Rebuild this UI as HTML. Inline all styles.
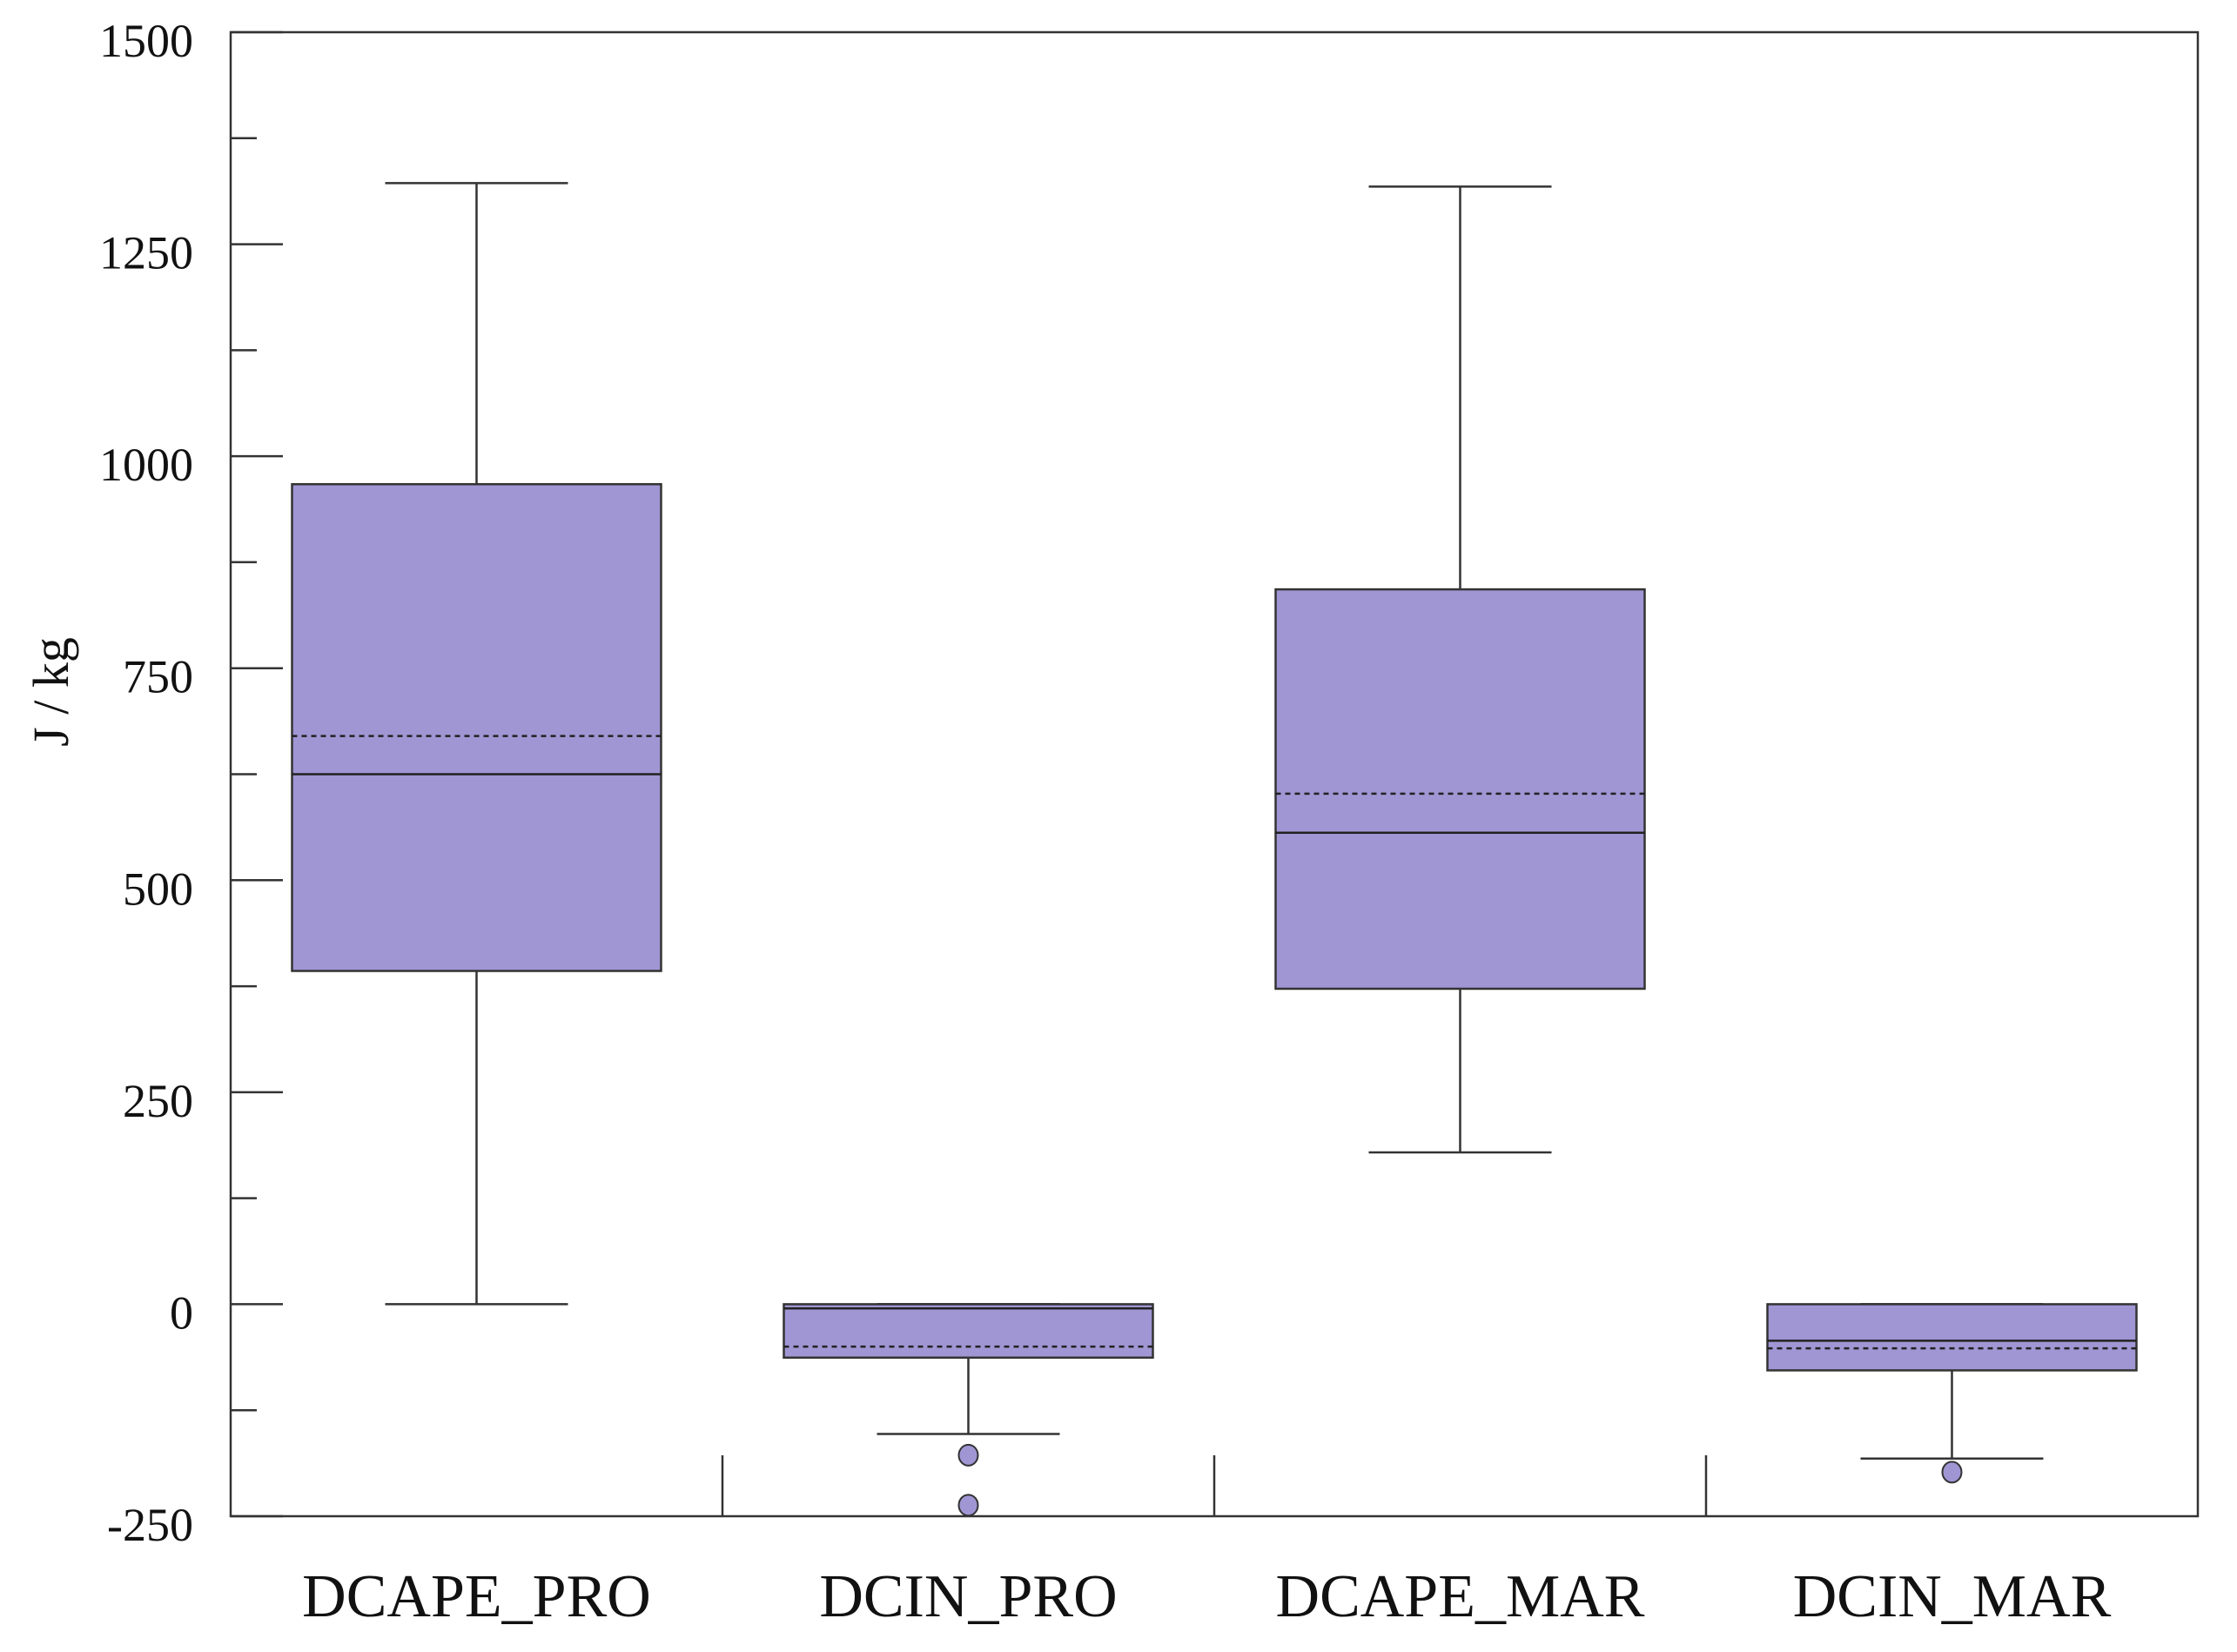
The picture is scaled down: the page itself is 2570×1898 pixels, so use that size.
<!DOCTYPE html>
<html><head><meta charset="utf-8"><style>
body{margin:0;background:#fff}
svg text{font-family:"Liberation Serif",serif;fill:#111}
</style></head><body>
<svg id="chart" width="2570" height="1893" viewBox="0 0 2570 1893" xmlns="http://www.w3.org/2000/svg">
<g id="plot"></g>
</svg>
<script>
const categories = ["DCAPE_PRO","DCIN_PRO","DCAPE_MAR","DCIN_MAR"];
const whiskerLow = [0,-153,179,-182];
const q1 = [393,-63,372,-78];
const medians = [625,-5,556,-43];
const means = [670,-50,602,-52];
const q3 = [967,0,843,0];
const whiskerHigh = [1322,0,1318,0];
const outliers = [[],[-178,-237],[],[-198]];
const majorTicks = [-250,0,250,500,750,1000,1250,1500];
const tickLabels = ["-250","0","250","500","750","1000","1250","1500"];
const minorTicks = [-125,125,375,625,875,1125,1375];

const L=265,R=2525,T=37,B=1742,ymin=-250,ymax=1500;
const y=v=>B-(v-ymin)/(ymax-ymin)*(B-T);
const bw=(R-L)/categories.length;
const x=i=>L+bw*(i+0.5);
const NS="http://www.w3.org/2000/svg";
const g=document.getElementById('plot');
function mk(tag,attrs){const e=document.createElementNS(NS,tag);for(const k in attrs)e.setAttribute(k,attrs[k]);g.appendChild(e);return e;}
const stroke="#333";

let fr=mk('rect',{x:L,y:T,width:R-L,height:B-T,fill:'none',stroke:stroke,'stroke-width':2.5});



majorTicks.forEach((v,i)=>{
  let t=mk('line',{x1:L,x2:L+60,y1:y(v),y2:y(v),stroke:stroke,'stroke-width':2.5});
  
  
  let tx=mk('text',{x:222,y:y(v)+28,'text-anchor':'end','font-size':54});
  tx.textContent=tickLabels[i];
  
  
});
minorTicks.forEach(v=>{
  let t=mk('line',{x1:L,x2:L+30,y1:y(v),y2:y(v),stroke:stroke,'stroke-width':2.5});
  
  
});
for(let i=1;i<categories.length;i++){
  let d=mk('line',{x1:L+bw*i,x2:L+bw*i,y1:B,y2:B-70,stroke:stroke,'stroke-width':2.5});
  
  
}
let yt=mk('text',{x:0,y:0,'text-anchor':'middle','font-size':58,transform:'translate(78,795) rotate(-90)'});
yt.textContent='J / kg';



const hb=212,hc=105;
categories.forEach((c,i)=>{
  const cx=x(i);
  let w1=mk('line',{x1:cx,x2:cx,y1:y(q3[i]),y2:y(whiskerHigh[i]),stroke:stroke,'stroke-width':2.5});
  
  
  let c1=mk('line',{x1:cx-hc,x2:cx+hc,y1:y(whiskerHigh[i]),y2:y(whiskerHigh[i]),stroke:stroke,'stroke-width':2.5});
  
  
  let w2=mk('line',{x1:cx,x2:cx,y1:y(q1[i]),y2:y(whiskerLow[i]),stroke:stroke,'stroke-width':2.5});
  
  
  let c2=mk('line',{x1:cx-hc,x2:cx+hc,y1:y(whiskerLow[i]),y2:y(whiskerLow[i]),stroke:stroke,'stroke-width':2.5});
  
  
  let b=mk('rect',{x:cx-hb,y:y(q3[i]),width:2*hb,height:y(q1[i])-y(q3[i]),fill:'#a096d4',stroke:stroke,'stroke-width':2.5});
  
  
  let m=mk('line',{x1:cx-hb,x2:cx+hb,y1:y(medians[i]),y2:y(medians[i]),stroke:'#222','stroke-width':2.5});
  
  
  let mn=mk('line',{x1:cx-hb,x2:cx+hb,y1:y(means[i]),y2:y(means[i]),stroke:'#222','stroke-width':2.5,'stroke-dasharray':'6,5'});
  
  
  outliers[i].forEach(v=>{
    let o=mk('ellipse',{cx:cx,cy:y(v),rx:11,ry:12,fill:'#a096d4',stroke:stroke,'stroke-width':2});
    
    
  });
  let lb=mk('text',{x:cx,y:1857,'text-anchor':'middle','font-size':70});
  lb.textContent=c;
  
  
});
</script>
</body></html>
